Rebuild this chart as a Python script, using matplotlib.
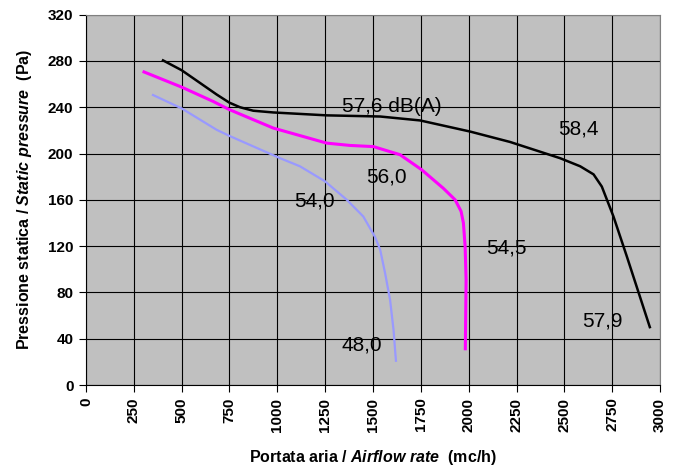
import matplotlib
matplotlib.use("Agg")
import matplotlib.pyplot as plt

plt.rcParams['font.family'] = ['Liberation Sans', 'DejaVu Sans']
plt.rcParams['mathtext.fontset'] = 'custom'
plt.rcParams['mathtext.rm'] = 'Liberation Sans:bold'
plt.rcParams['mathtext.bfit'] = 'Liberation Sans:bold:italic'
plt.rcParams['mathtext.it'] = 'Liberation Sans:bold:italic'

# Curve data (airflow mc/h, static pressure Pa)
black_x = [397, 500, 596, 683, 749, 805, 874, 979, 1258, 1537, 1746, 2007, 2216, 2477, 2582, 2652, 2695, 2756, 2826, 2948]
black_y = [281, 272, 261, 251, 244, 240, 237, 235.5, 233, 232, 228.6, 219, 210, 196, 189, 182, 171.5, 145.6, 111, 49]

mag_x = [296, 500, 665, 749, 979, 1258, 1380, 1502, 1641, 1754, 1867, 1929, 1960, 1972, 1981, 1986, 1982]
mag_y = [271, 257.4, 245, 238, 222, 209, 207, 206, 199, 186, 170, 160, 150, 140, 120, 91, 30]

blue_x = [345, 500, 683, 753, 1014, 1118, 1249, 1363, 1449, 1510, 1537, 1563, 1589, 1607, 1620]
blue_y = [251, 239, 220.5, 215, 196, 189, 176, 160, 145.6, 128, 117, 96.6, 73.5, 47.6, 20]

labels = ["57,6 dB(A)", "58,4", "56,0", "54,0", "54,5", "48,0", "57,9"]
label_x = [1598, 2573, 1568, 1193, 2198, 1441, 2700]
label_y = [241, 221, 180, 159, 118, 35, 55]

x_ticks = list(range(0, 3001, 250))
y_ticks = list(range(0, 321, 40))

fig = plt.figure(figsize=(6.82, 4.73), dpi=100)
ax = fig.add_axes([0.126, 0.186, 0.842, 0.783])
ax.set_facecolor('#C0C0C0')

ax.plot(blue_x, blue_y, color='#9999FF', lw=1.6, solid_capstyle='butt', solid_joinstyle='round')
ax.plot(mag_x, mag_y, color='#FF00FF', lw=2.2, solid_capstyle='butt', solid_joinstyle='round')
ax.plot(black_x, black_y, color='black', lw=1.8, solid_capstyle='butt', solid_joinstyle='round')

for t, x, y in zip(labels, label_x, label_y):
    ax.text(x, y, t, fontsize=15, ha='center', va='center', color='black')

ax.set_xlim(0, 3000)
ax.set_ylim(0, 320)
ax.set_xticks(x_ticks)
ax.set_yticks(y_ticks)
ax.set_xticklabels([str(v) for v in x_ticks], rotation=90, fontweight='bold', fontsize=11)
ax.set_yticklabels([str(v) for v in y_ticks], fontweight='bold', fontsize=11)
ax.grid(True, color='black', lw=0.8)
ax.set_axisbelow(True)
ax.tick_params(direction='out', length=5, width=0.8, color='black', pad=4)

for s in ['top', 'right']:
    ax.spines[s].set_color('#808080')
for s in ['left', 'bottom']:
    ax.spines[s].set_color('black')

ax.set_xlabel(r'Portata aria / $\mathbfit{Airflow\ rate}$  (mc/h)', fontsize=11.5, fontweight='bold', labelpad=12)
ax.set_ylabel(r'Pressione statica / $\mathbfit{Static\ pressure}$  (Pa)', fontsize=11.5, fontweight='bold', labelpad=10)

fig.savefig('out.png', dpi=100)
